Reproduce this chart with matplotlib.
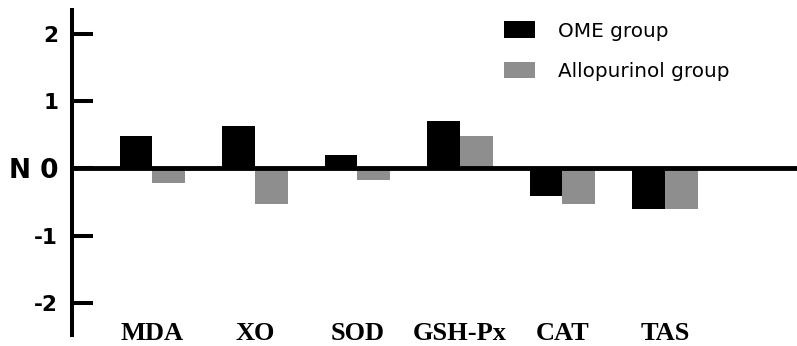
import matplotlib
matplotlib.use("Agg")
import matplotlib.pyplot as plt
import numpy as np

categories = ["MDA", "XO", "SOD", "GSH-Px", "CAT", "TAS"]
ome_values = [0.48, 0.63, 0.20, 0.71, -0.41, -0.60]
allo_values = [-0.22, -0.53, -0.17, 0.48, -0.53, -0.60]
series_names = ["OME group", "Allopurinol group"]
ytick_values = [-2, -1, 0, 1, 2]
ytick_labels = ["-2", "-1", "N 0", "1", "2"]

W, H = 797, 346
fig = plt.figure(figsize=(W / 100, H / 100), dpi=100)
fig.patch.set_facecolor("white")
ax = fig.add_axes([72 / W, 11 / H, 1 - 72 / W, (335 - 10) / H])

x = np.arange(len(categories))
w = 0.32
black = "#000000"
gray = "#8e8e8e"
b1 = ax.bar(x - w / 2, ome_values, width=w, color=black, zorder=2, label=series_names[0])
b2 = ax.bar(x + w / 2, allo_values, width=w, color=gray, zorder=2, label=series_names[1])

ax.axhline(0, color="black", lw=3.5, zorder=3)

ax.set_xlim(-0.785, 6.288)
ax.set_ylim(-2.476, 2.357)

for s in ["top", "right", "bottom"]:
    ax.spines[s].set_visible(False)
ax.spines["left"].set_linewidth(2.9)
ax.spines["left"].set_color("black")

ax.set_yticks(ytick_values)
ax.set_yticklabels(ytick_labels)
ax.tick_params(axis="y", direction="in", length=15, width=2.9, pad=10,
               labelsize=15.5, color="black")
for lab in ax.get_yticklabels():
    lab.set_fontweight("bold")
    lab.set_family("DejaVu Sans")
    if lab.get_text() == "N 0":
        lab.set_fontsize(19)

ax.set_xticks(x)
ax.set_xticklabels(categories)
ax.tick_params(axis="x", length=0, pad=-9.5, labelsize=19)
for lab in ax.get_xticklabels():
    lab.set_fontweight("bold")
    lab.set_family("Liberation Serif")

leg = ax.legend(handles=[b1, b2], labels=series_names, loc="upper left",
                bbox_to_anchor=(504 / W, 1 - 21.5 / H), bbox_transform=fig.transFigure,
                frameon=False, borderpad=0, borderaxespad=0, handlelength=1.55,
                handleheight=0.9, handletextpad=1.15, labelspacing=1.05,
                prop={"family": "DejaVu Sans", "size": 14.4})

fig.savefig("out.png", dpi=100, facecolor="white")
